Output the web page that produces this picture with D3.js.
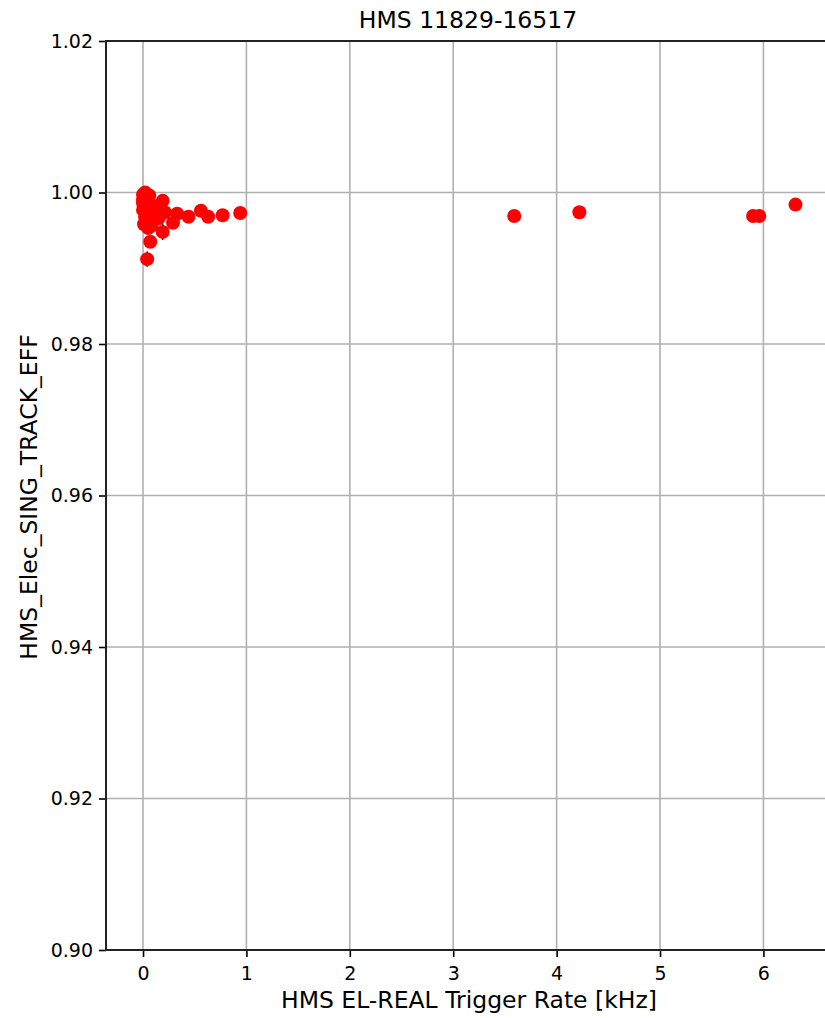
<!DOCTYPE html>
<html>
<head>
<meta charset="utf-8">
<script src="https://cdn.jsdelivr.net/npm/d3@7"></script>
<style>
  html, body { margin: 0; padding: 0; background: #fff; }
  text { font-family: "DejaVu Sans", sans-serif; fill: #000; }
</style>
</head>
<body>
<svg id="chart" width="825" height="1018"></svg>
<script>
// ---- data ----
const title = "HMS 11829-16517";
const xLabel = "HMS EL-REAL Trigger Rate [kHz]";
const yLabel = "HMS_Elec_SING_TRACK_EFF";
const xTicks = [0, 1, 2, 3, 4, 5, 6];
const yTicks = [0.90, 0.92, 0.94, 0.96, 0.98, 1.00, 1.02];
const rate = [0.02, 0.00, 0.03, 0.00, 0.05, 0.00, 0.03, 0.02, 0.04, 0.01, 0.05,
              0.09, 0.13, 0.19, 0.21, 0.10, 0.15, 0.07, 0.16, 0.29, 0.33, 0.44,
              0.56, 0.63, 0.77, 0.94, 0.19, 0.07, 0.04, 0.00, 0.01, 0.06, 0.08, 0.11,
              3.59, 4.22, 5.90, 5.96, 6.31];
const eff  = [1.0000, 0.9997, 0.9993, 0.9986, 0.9983, 0.9977, 0.9973, 0.9968, 0.9962, 0.9958, 0.9953,
              0.9977, 0.9982, 0.9989, 0.9974, 0.9970, 0.9966, 0.9961, 0.9969, 0.9960, 0.9972, 0.9968,
              0.9976, 0.9968, 0.9970, 0.9973, 0.9948, 0.9935, 0.9912, 0.9990, 0.9981, 0.9996, 0.9956, 0.9965,
              0.9969, 0.9974, 0.9969, 0.9969, 0.9984];
const effErr = [0.0004, 0.0004, 0.0004, 0.0004, 0.0004, 0.0004, 0.0004, 0.0004, 0.0004, 0.0004, 0.0004,
                0.0004, 0.0004, 0.0004, 0.0004, 0.0004, 0.0004, 0.0004, 0.0004, 0.0004, 0.0004, 0.0004,
                0.0004, 0.0004, 0.0004, 0.0004, 0.00105, 0.0006, 0.0010, 0.0004, 0.0004, 0.0004, 0.0004, 0.0004,
                0.0004, 0.0004, 0.0004, 0.0004, 0.0004];

// ---- layout ----
const svg = d3.select("#chart");
const L = 106, T = 41, B = 950;
const x = d3.scaleLinear().domain([-0.358, 7.52]).range([L, L + (7.52 + 0.358) * 103.4]);
const y = d3.scaleLinear().domain([0.90, 1.02]).range([B, T]);
const R = x.range()[1];

// grid
const grid = svg.append("g");
grid.selectAll("line.gx").data(xTicks).join("line")
  .attr("x1", d => x(d)).attr("x2", d => x(d)).attr("y1", T).attr("y2", B)
  .attr("stroke", "#b0b0b0").attr("stroke-width", 1.6);
grid.selectAll("line.gy").data(yTicks).join("line")
  .attr("x1", L).attr("x2", R).attr("y1", d => y(d)).attr("y2", d => y(d))
  .attr("stroke", "#b0b0b0").attr("stroke-width", 1.6);

// error bars
const pts = rate.map((r, i) => ({x: r, y: eff[i], e: effErr[i]}));
svg.append("g").selectAll("line").data(pts).join("line")
  .attr("x1", d => x(d.x)).attr("x2", d => x(d.x))
  .attr("y1", d => y(d.y - d.e)).attr("y2", d => y(d.y + d.e))
  .attr("stroke", "#000").attr("stroke-width", 1.6);

// points
svg.append("g").selectAll("circle").data(pts).join("circle")
  .attr("cx", d => x(d.x)).attr("cy", d => y(d.y)).attr("r", 7)
  .attr("fill", "#ff0000");

// axes
const xAxis = d3.axisBottom(x).tickValues(xTicks).tickSize(7).tickPadding(6).tickFormat(d3.format("d"));
const yAxis = d3.axisLeft(y).tickValues(yTicks).tickSize(7).tickPadding(6).tickFormat(d3.format(".2f"));
const gx = svg.append("g").attr("transform", `translate(0,${B})`).call(xAxis);
const gy = svg.append("g").attr("transform", `translate(${L},0)`).call(yAxis);
[gx, gy].forEach(g => {
  g.select(".domain").remove();
  g.selectAll(".tick line").attr("stroke", "#000").attr("stroke-width", 1.6);
  g.selectAll(".tick text").attr("font-family", "DejaVu Sans").attr("font-size", 19).attr("fill", "#222");
});
gx.selectAll(".tick text").attr("dy", "0.9em");

// spines
svg.append("rect").attr("x", L).attr("y", T).attr("width", R - L).attr("height", B - T)
  .attr("fill", "none").attr("stroke", "#222").attr("stroke-width", 2);

// labels
svg.append("text").attr("x", 468).attr("y", 28).attr("text-anchor", "middle")
  .attr("font-size", 23.5).attr("fill", "#222").text(title);
svg.append("text").attr("x", 469).attr("y", 1008).attr("text-anchor", "middle")
  .attr("font-size", 23.5).attr("fill", "#222").text(xLabel);
svg.append("text").attr("transform", "translate(37,497) rotate(-90)").attr("text-anchor", "middle")
  .attr("font-size", 23.5).attr("fill", "#222").text(yLabel);
</script>
</body>
</html>
